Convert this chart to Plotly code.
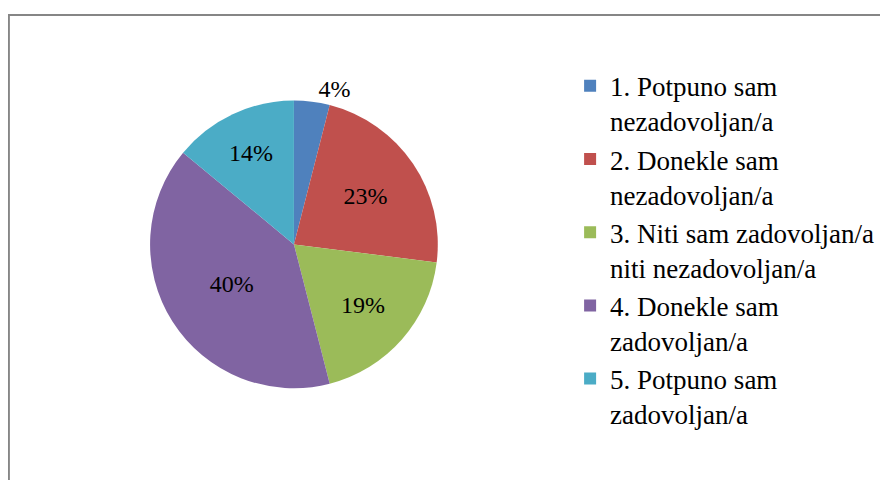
import plotly.graph_objects as go

categories = [
    "1. Potpuno sam<br>nezadovoljan/a",
    "2. Donekle sam<br>nezadovoljan/a",
    "3. Niti sam zadovoljan/a<br>niti nezadovoljan/a",
    "4. Donekle sam<br>zadovoljan/a",
    "5. Potpuno sam<br>zadovoljan/a",
]
values = [4, 23, 19, 40, 14]
colors = ["#4F81BD", "#C0504D", "#9BBB59", "#8064A2", "#4BACC6"]
label_positions = ["outside", "inside", "inside", "inside", "inside"]

FONT = "Liberation Serif"

fig = go.Figure(go.Pie(
    labels=categories,
    values=values,
    sort=False,
    direction="clockwise",
    rotation=0,
    marker=dict(colors=colors, line=dict(width=0)),
    textinfo="percent",
    texttemplate="%{percent:.0%}",
    textposition=label_positions,
    insidetextorientation="horizontal",
    textfont=dict(family=FONT, size=24, color="black"),
    outsidetextfont=dict(family=FONT, size=24, color="black"),
    domain=dict(x=[0.16, 0.484], y=[0.185, 0.83]),
    hoverinfo="label+percent",
))

fig.update_layout(
    width=888, height=480,
    margin=dict(l=0, r=0, t=0, b=0),
    paper_bgcolor="white",
    plot_bgcolor="white",
    font=dict(family=FONT, size=27, color="black"),
    legend=dict(
        x=0.633, y=0.888, xanchor="left", yanchor="top",
        valign="top",
        font=dict(family=FONT, size=27, color="black"),
        itemwidth=30,
        bgcolor="rgba(0,0,0,0)",
    ),
    shapes=[dict(
        type="rect", xref="paper", yref="paper",
        x0=0.001, y0=-0.05, x1=1.05, y1=1 - 7 / 480,
        line=dict(color="#868686", width=2),
        fillcolor="rgba(0,0,0,0)",
    )],
)

fig.write_html("out.html")
